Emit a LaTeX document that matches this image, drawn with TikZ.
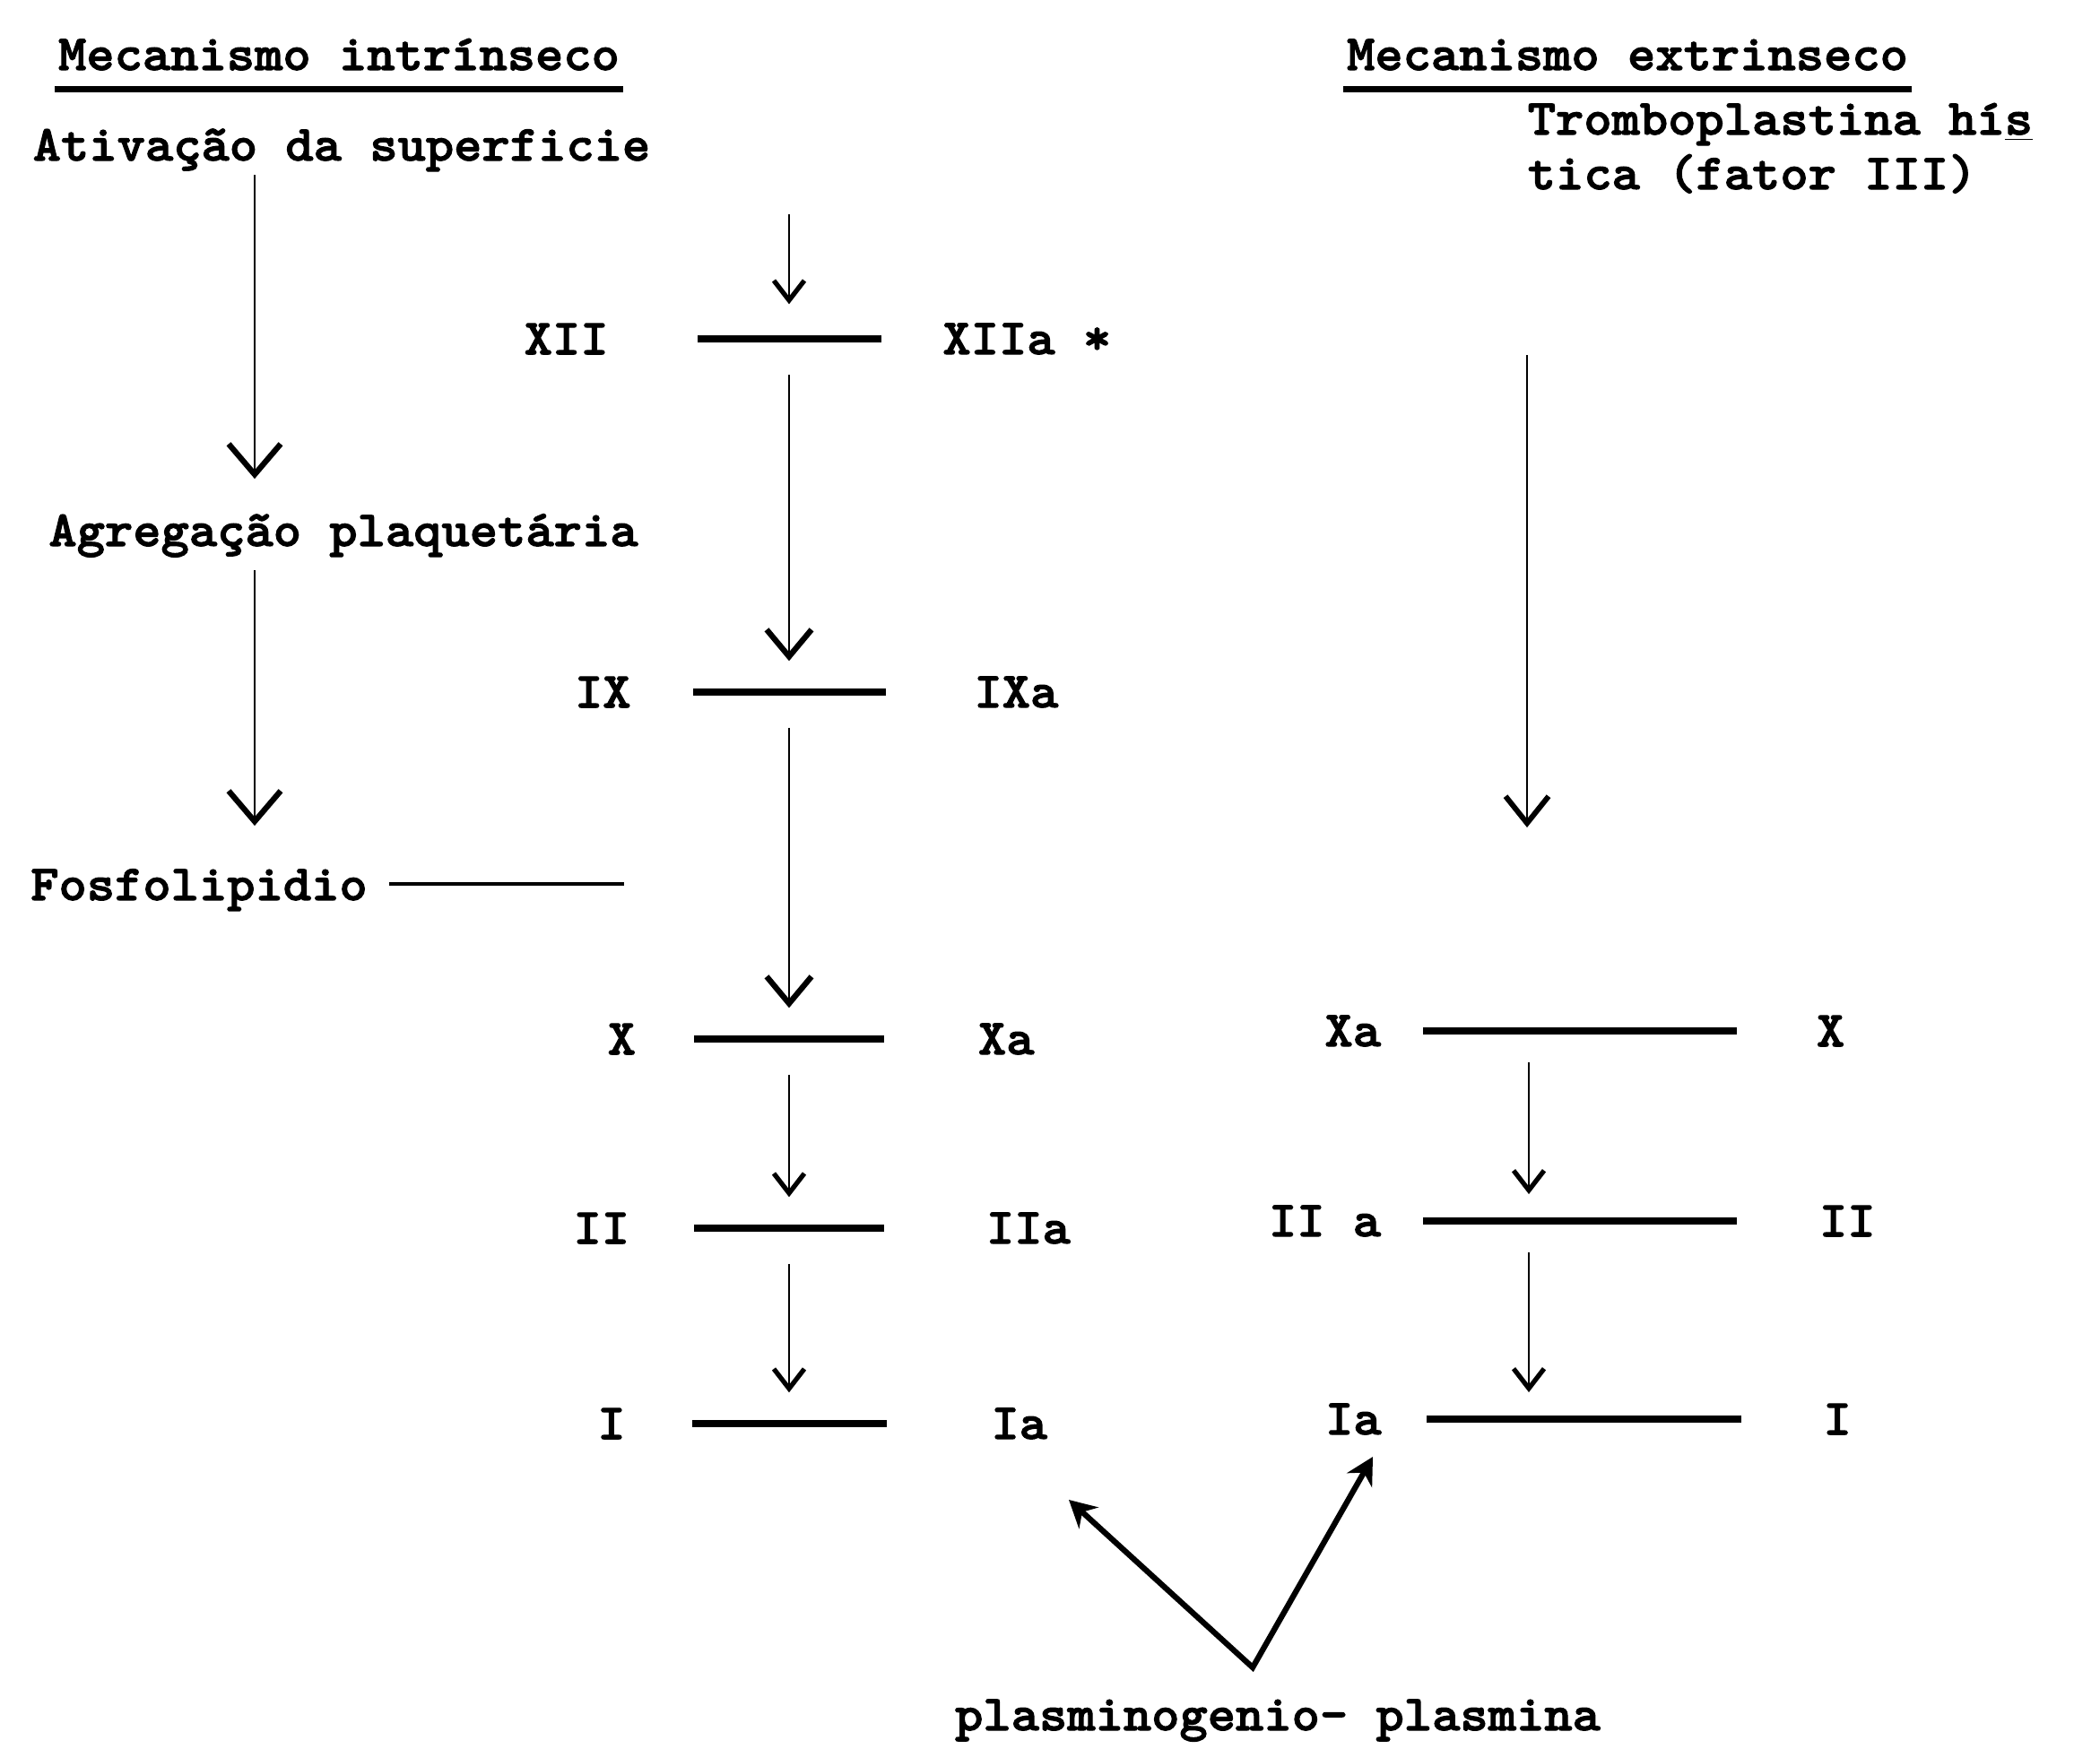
\documentclass[tikz,border=0pt]{standalone}
\usepackage{fontspec}
\newfontfamily\typefont{lmmonolt10-bold.otf}[FakeStretch=1.06,FakeBold=2]
\usepackage{tikz}
\usetikzlibrary{arrows.meta}
\usetikzlibrary{positioning}
\tikzset{>={Straight Barb[length=2.2mm,width=3.4mm,line width=1.5pt]}}
\tikzset{
    lbl/.style={font=\typefont\fontsize{16}{18}\selectfont, inner sep=1pt},
    rxnbar/.style={fill=black, inner sep=0pt, minimum height=2.3pt, minimum width=#1},
    uline/.style={line width=2pt},
    flow/.style={->, line width=0.7pt, shorten <=3.5mm, shorten >=3mm},
    bigflow/.style={-{Straight Barb[length=3.4mm,width=5.8mm,line width=1.8pt]}, line width=0.8pt},
    plflow/.style={{Stealth[length=3mm,width=3.2mm]}-{Stealth[length=3mm,width=3.2mm]}, line width=1.8pt, line join=miter}
}

\begin{document}
\begin{tikzpicture}
    \useasboundingbox (0, 0) rectangle (23.42, -19.50);
    \coordinate (lcol) at (2.84, 0);
    \coordinate (rcol) at (17.05, 0);

    \node[lbl, anchor=base] (tin) at (3.78, -0.78) {Mecanismo intrínseco};
    \node[lbl, anchor=base] (tex) at (18.15, -0.78) {Mecanismo extrinseco};
    \draw[uline] ([yshift=-0.21cm]tin.base west) -- ([yshift=-0.21cm]tin.base east);
    \draw[uline] ([yshift=-0.21cm]tex.base west) -- ([yshift=-0.21cm]tex.base east);

    \node[lbl, anchor=base] (ativ) at (3.81, -1.79) {Ativação da superficie};
    \node[lbl, anchor=base] (agreg) at (3.83, -6.09) {Agregação plaquetária};
    \node[lbl, anchor=base west] (fosf) at (0.30, -10.04) {Fosfolipidio};
    \coordinate (fosfend) at (6.96, -9.86);
    \draw[line width=1.4pt] ([xshift=2mm]fosf.east |- fosfend) -- (fosfend);
    \draw[bigflow, shorten >=3.5mm] (ativ.south -| lcol) -- (agreg.north -| lcol);
    \draw[bigflow, shorten <=1mm, shorten >=4.4mm] (agreg.south -| lcol) -- (fosf.north -| lcol);

    \node[lbl, inner sep=0pt, anchor=base west] (trombo) at (17.03, -1.50) {Tromboplastina hí\underline{s}};
    \node[lbl, inner sep=0pt, anchor=base west] (tica) at (17.03, -2.11) {tica (fator III)};
    \coordinate (etop) at (17.03, -3.96);
    \coordinate (etip) at (17.03, -9.23);
    \draw[bigflow, -{Straight Barb[length=3mm,width=4.8mm,line width=1.7pt]}] (etop) -- (etip);

    \node[rxnbar=2.05cm] (b12) at (8.80, -3.78) {};
    \node[rxnbar=2.15cm] (b9) at (8.80, -7.72) {};
    \node[rxnbar=2.12cm] (b10) at (8.80, -11.59) {};
    \node[rxnbar=2.12cm] (b2) at (8.80, -13.70) {};
    \node[rxnbar=2.17cm] (b1) at (8.80, -15.88) {};
    \node[rxnbar=3.50cm] (rb10) at (17.62, -11.50) {};
    \node[rxnbar=3.50cm] (rb2) at (17.62, -13.62) {};
    \node[rxnbar=3.51cm] (rb1) at (17.66, -15.83) {};

    \node[lbl, left=0.94cm of b12] (f12) {XII};
    \node[lbl, right=0.64cm of b12] (f12a) {XIIa *};
    \node[lbl, left=0.64cm of b9] (f9) {IX};
    \node[lbl, right=0.94cm of b9] (f9a) {IXa};
    \node[lbl, left=0.60cm of b10] (f10) {X};
    \node[lbl, right=1.00cm of b10] (f10a) {Xa};
    \node[lbl, left=0.67cm of b2] (f2) {II};
    \node[lbl, right=1.09cm of b2] (f2a) {IIa};
    \node[lbl, left=0.69cm of b1] (f1) {I};
    \node[lbl, right=1.12cm of b1] (f1a) {Ia};
    \node[lbl, left=0.42cm of rb10] (e10a) {Xa};
    \node[lbl, right=0.84cm of rb10] (e10) {X};
    \node[lbl, left=0.42cm of rb2] (e2a) {II a};
    \node[lbl, right=0.87cm of rb2] (e2) {II};
    \node[lbl, left=0.45cm of rb1] (e1a) {Ia};
    \node[lbl, right=0.87cm of rb1] (e1) {I};

    \coordinate (mtop) at (8.80, -2.39);
    \draw[flow, shorten <=0pt, shorten >=3.4mm] (mtop) -- (b12);
    \draw[flow, -{Straight Barb[length=3mm,width=5mm,line width=1.8pt]}] (b12) -- (b9);
    \draw[flow, -{Straight Barb[length=3mm,width=5mm,line width=1.8pt]}] (b9) -- (b10);
    \draw[flow] (b10) -- (b2);
    \draw[flow] (b2) -- (b1);
    \draw[flow] (rb10 -| rcol) -- (rb2 -| rcol);
    \draw[flow] (rb2 -| rcol) -- (rb1 -| rcol);

    \node[lbl, anchor=base] (plasm) at (14.25, -19.30) {plasminogenio- plasmina};
    \coordinate (vtx) at (13.97, -18.60);
    \coordinate (vl) at (11.92, -16.73);
    \coordinate (vr) at (15.31, -16.25);
    \draw[plflow] (vl) -- (vtx) -- (vr);
\end{tikzpicture}
\end{document}
